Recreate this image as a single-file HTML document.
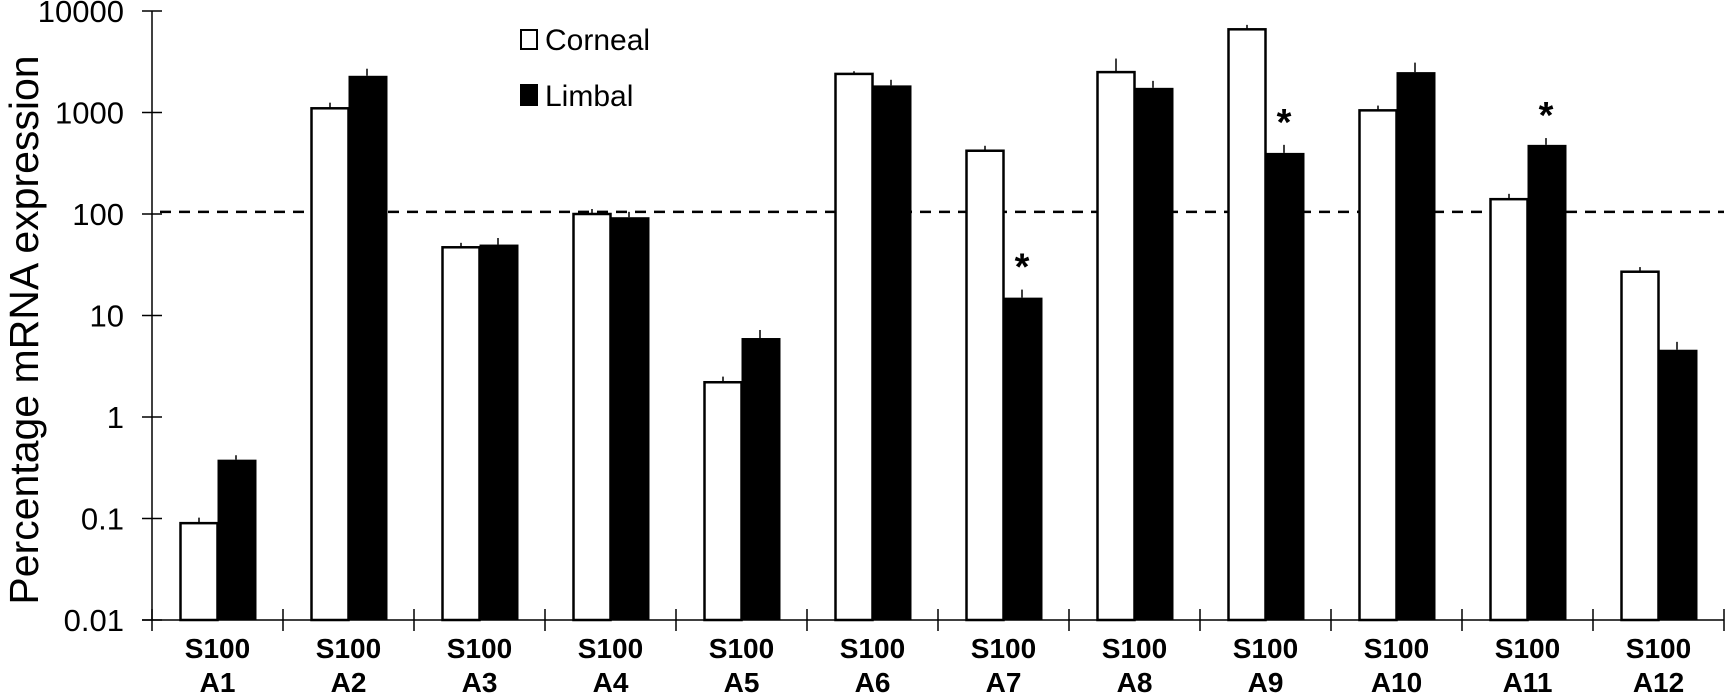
<!DOCTYPE html>
<html><head><meta charset="utf-8">
<style>
html,body{margin:0;padding:0;background:#fff;}
svg{display:block;font-family:"Liberation Sans",sans-serif;}
</style></head>
<body>
<svg id="chart" width="1728" height="700" viewBox="0 0 1728 700"></svg>
<script>
const categories = ["A1","A2","A3","A4","A5","A6","A7","A8","A9","A10","A11","A12"];
const corneal = [0.09,1100,47,100,2.2,2400,420,2500,6600,1050,140,27];
const limbal = [0.38,2300,50,93,6,1850,15,1750,400,2500,480,4.6];
const cornealErr = [0.012,150,5,12,0.3,150,50,900,700,120,18,3];
const limbalErr = [0.04,400,8,12,1.2,250,3,300,80,600,80,0.9];
const significant = [false,false,false,false,false,false,true,false,true,false,true,false];
const yTicks = [0.01,0.1,1,10,100,1000,10000];
const yTickLabels = ["0.01","0.1","1","10","100","1000","10000"];
const refLine = 105;

const NS="http://www.w3.org/2000/svg";
const svg=document.getElementById('chart');
const x0=152, x1=1724, yTop=11, yBot=620;
const gw=(x1-x0)/categories.length, bw=37;
function y(v){return yBot-(Math.log10(v)+2)/6*(yBot-yTop);}
function gx(i){return x0+gw*(i+0.5);}
function mk(t,a){const e=document.createElementNS(NS,t);for(const k in a)e.setAttribute(k,a[k]);svg.appendChild(e);return e;}

let e=mk('line',{x1:x0,y1:yTop,x2:x0,y2:yBot,stroke:'#000','stroke-width':1.5});


yTicks.forEach((v,i)=>{
  let t=mk('line',{x1:x0-10,y1:y(v),x2:x0+10,y2:y(v),stroke:'#000','stroke-width':1.5});
  
  
  let l=mk('text',{x:x0-28,y:y(v)+11,'text-anchor':'end','font-size':31});
  l.textContent=yTickLabels[i];
  
  
});
e=mk('text',{x:0,y:0,'text-anchor':'middle','font-size':41,transform:'translate(38,330) rotate(-90)'});
e.textContent='Percentage mRNA expression';



e=mk('line',{x1:x0-10,y1:yBot,x2:x1,y2:yBot,stroke:'#000','stroke-width':1.5});


for(let i=0;i<=categories.length;i++){
  let t=mk('line',{x1:x0+gw*i,y1:yBot-11,x2:x0+gw*i,y2:yBot+11,stroke:'#000','stroke-width':1.5});
  
  
}

e=mk('line',{x1:x0+8,y1:y(refLine),x2:x1,y2:y(refLine),stroke:'#000','stroke-width':2.5,'stroke-dasharray':'11,8'});



categories.forEach((c,i)=>{
  const cx=gx(i);
  let yc=y(corneal[i]);
  let er=mk('line',{x1:cx-bw/2,y1:yc,x2:cx-bw/2,y2:y(corneal[i]+cornealErr[i]),stroke:'#000','stroke-width':1.5});
  
  
  let b=mk('rect',{x:cx-bw,y:yc,width:bw,height:yBot-yc,fill:'#fff',stroke:'#000','stroke-width':2.5});
  
  
  let yl=y(limbal[i]);
  er=mk('line',{x1:cx+bw/2,y1:yl,x2:cx+bw/2,y2:y(limbal[i]+limbalErr[i]),stroke:'#000','stroke-width':1.5});
  
  
  b=mk('rect',{x:cx,y:yl,width:bw+2,height:yBot-yl,fill:'#000'});
  
  
  if(significant[i]){
    let s=mk('text',{x:cx+bw/2,y:y(limbal[i]+limbalErr[i])-10,'text-anchor':'middle','font-size':38,'font-weight':'bold'});
    s.textContent='*';
    
    
  }
  let l1=mk('text',{x:cx,y:658,'text-anchor':'middle','font-size':28,'font-weight':'bold'});
  l1.textContent='S100';
  
  
  let l2=mk('text',{x:cx,y:692,'text-anchor':'middle','font-size':28,'font-weight':'bold'});
  l2.textContent=c;
  
  
});

e=mk('rect',{x:521,y:30,width:16,height:19,fill:'#fff',stroke:'#000','stroke-width':2});


e=mk('text',{x:545,y:50,'font-size':30});
e.textContent='Corneal';


e=mk('rect',{x:520,y:84,width:18,height:22,fill:'#000'});


e=mk('text',{x:545,y:106,'font-size':30});
e.textContent='Limbal';


</script>
</body></html>
